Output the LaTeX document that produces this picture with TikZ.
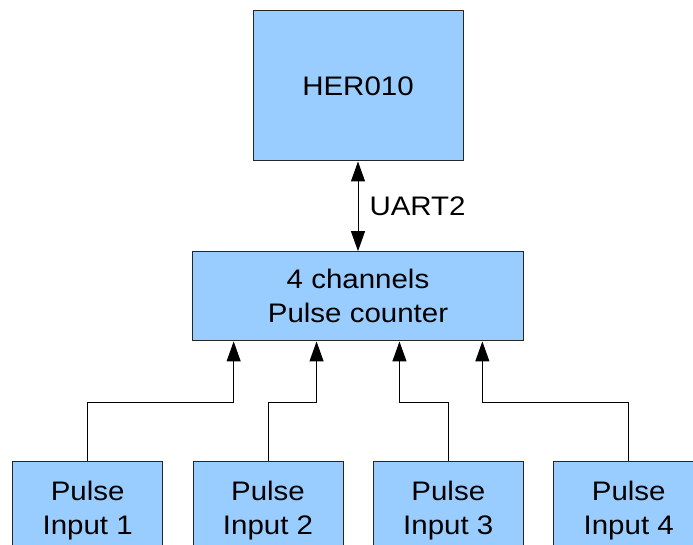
\documentclass[tikz,border=0pt]{standalone}
\usepackage{fontspec}
\setmainfont[FakeStretch=1.1]{Liberation Sans}
\usetikzlibrary{arrows.meta,calc}
\definecolor{boxblue}{HTML}{99CCFF}
\newcommand{\toppad}{\rule{0pt}{26pt}}
\begin{document}
\begin{tikzpicture}[x=1pt,y=-1pt,
  blk/.style={draw=black!85, fill=boxblue, line width=1pt, inner sep=0pt, align=center,
              font=\fontsize{26.8}{34}\selectfont},
  lbl/.style={inner sep=0pt, font=\fontsize{26.8}{34}\selectfont},
  arr/.style={line width=1pt, -{Triangle[length=20pt,width=14pt]}},
  dbl/.style={line width=1pt, {Triangle[length=20pt,width=14pt]}-{Triangle[length=20pt,width=14pt]}}]
\useasboundingbox (0,0) rectangle (693,545);
\node[blk, minimum width=210pt, minimum height=150pt] (her) at (358,86) {HER010};
\node[blk, minimum width=330.6pt, minimum height=89.3pt] (cnt) at (358,296.3) {4 channels\\Pulse counter};
\node[blk, minimum width=150pt, minimum height=92pt] (in1) at (87.7,507) {\toppad Pulse\\Input 1};
\node[blk, minimum width=150pt, minimum height=92pt] (in2) at (268,507) {\toppad Pulse\\Input 2};
\node[blk, minimum width=150pt, minimum height=92pt] (in3) at (448.3,507) {\toppad Pulse\\Input 3};
\node[blk, minimum width=150pt, minimum height=92pt] (in4) at (628.7,507) {\toppad Pulse\\Input 4};
\draw[dbl] (her.south) -- node[lbl, right, xshift=11pt] (uart) {UART2} (cnt.north);
\coordinate (a1) at ($(cnt.south west)!0.125!(cnt.south east)$);
\coordinate (a2) at ($(cnt.south west)!0.375!(cnt.south east)$);
\coordinate (a3) at ($(cnt.south west)!0.625!(cnt.south east)$);
\coordinate (a4) at ($(cnt.south west)!0.875!(cnt.south east)$);
\draw[arr] (in1.north) |- ($(a1)+(0,60.7)$) -- (a1);
\draw[arr] (in2.north) |- ($(a2)+(0,60.7)$) -- (a2);
\draw[arr] (in3.north) |- ($(a3)+(0,60.7)$) -- (a3);
\draw[arr] (in4.north) |- ($(a4)+(0,60.7)$) -- (a4);
\end{tikzpicture}
\end{document}
